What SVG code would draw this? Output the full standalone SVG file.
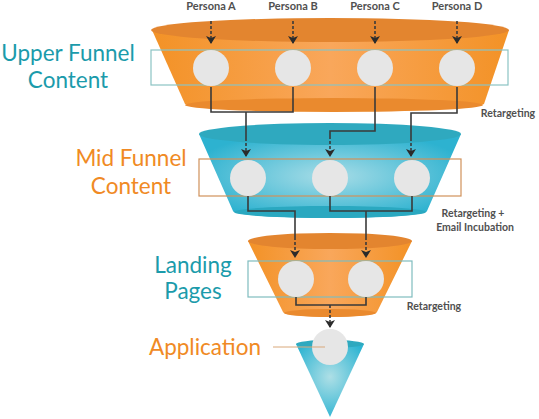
<svg xmlns="http://www.w3.org/2000/svg" width="539" height="419" viewBox="0 0 539 419">
<defs>
<linearGradient id="og" x1="0" y1="0" x2="1" y2="0">
<stop offset="0" stop-color="#F39226"/>
<stop offset="0.5" stop-color="#F9A75B"/>
<stop offset="1" stop-color="#F39226"/>
</linearGradient>
<radialGradient id="tg" cx="0.5" cy="0.5" r="0.55">
<stop offset="0" stop-color="#A9DDE7"/>
<stop offset="1" stop-color="#2DB2D0"/>
</radialGradient>
<radialGradient id="tg2" cx="0.5" cy="0.45" r="0.6">
<stop offset="0" stop-color="#AEDFE6"/>
<stop offset="1" stop-color="#2DB4D2"/>
</radialGradient>
<marker id="ah" markerUnits="userSpaceOnUse" markerWidth="8" markerHeight="10" refX="7" refY="5" orient="auto">
<path d="M0,0 L8,5 L0,10 L2,5 z" fill="#2B2B2B"/>
</marker>
</defs>
<style>
.lbl{font-family:Lato,"Open Sans","Liberation Sans",sans-serif;font-size:22.5px;text-anchor:middle}
.teal{fill:#1B9BAB}
.orng{fill:#F08A24}
.sm{font-family:Lato,"Open Sans","Liberation Sans",sans-serif;font-size:10.5px;font-weight:bold;fill:#505050;text-anchor:middle}
.pl{font-size:11px}
.node{fill:#E6E6E6}
.ln{fill:none;stroke:#3A3A3A;stroke-width:1.6}
.dash{fill:none;stroke:#3A3A3A;stroke-width:1.6;stroke-dasharray:3 2}
.box{fill:none;stroke-width:1.2}
</style>

<g id="upper-funnel">
<path d="M152 30 L185 104 A150 8 0 0 0 484 104 L509 30 Z" fill="url(#og)"/>
<ellipse cx="334" cy="105" rx="149" ry="7" fill="#EA8A2E"/>
<ellipse cx="330" cy="30" rx="179" ry="12" fill="#E3852F"/>
<rect class="box" x="151" y="50" width="357" height="35" stroke="#8BC3C3"/>
</g>
<g id="mid-funnel">
<path d="M199 134 L233 211 A97 7 0 0 0 427 211 L461 134 Z" fill="url(#tg)"/>
<ellipse cx="330" cy="212" rx="96" ry="6" fill="#2AA8C0"/>
<ellipse cx="330" cy="134" rx="131" ry="11" fill="#2FA9BF"/>
<rect class="box" x="199" y="159" width="262" height="37" stroke="#D0915A"/>
</g>
<g id="landing-funnel">
<path d="M248 241 L283 312 A47 5 0 0 0 377 312 L412 241 Z" fill="url(#og)"/>
<ellipse cx="330" cy="313" rx="46" ry="4" fill="#EA8A2E"/>
<ellipse cx="330" cy="241" rx="82" ry="8" fill="#E3852F"/>
<rect class="box" x="248" y="261" width="164" height="36" stroke="#7FBCBF"/>
</g>
<g id="app-cone">
<path d="M296 344 L330 417 L364 344 Z" fill="url(#tg2)"/>
<ellipse cx="330" cy="344" rx="34" ry="4" fill="#2FA9BF"/>
</g>

<g id="label-upper"><text class="lbl teal" x="68" y="61">Upper Funnel</text><text class="lbl teal" x="68" y="88">Content</text></g>
<g id="label-mid"><text class="lbl orng" x="131" y="166">Mid Funnel</text><text class="lbl orng" x="131" y="194">Content</text></g>
<g id="label-landing"><text class="lbl teal" x="193" y="273">Landing</text><text class="lbl teal" x="193" y="299">Pages</text></g>
<g id="label-app"><text class="lbl orng" x="205" y="355">Application</text></g>

<g id="personas">
<text class="sm pl" x="211" y="10">Persona A</text>
<text class="sm pl" x="293" y="10">Persona B</text>
<text class="sm pl" x="375" y="10">Persona C</text>
<text class="sm pl" x="457" y="10">Persona D</text>
</g>
<g id="side-labels">
<text class="sm" x="508" y="117">Retargeting</text>
<text class="sm" x="473" y="217">Retargeting +</text>
<text class="sm" x="475" y="231">Email Incubation</text>
<text class="sm" x="434" y="310">Retargeting</text>
</g>

<g id="connectors">
<path class="dash" d="M211 21 V43" marker-end="url(#ah)"/>
<path class="dash" d="M293 21 V43" marker-end="url(#ah)"/>
<path class="dash" d="M375 21 V43" marker-end="url(#ah)"/>
<path class="dash" d="M457 21 V43" marker-end="url(#ah)"/>

<path class="ln" d="M211 87 V112 H293 V87"/>
<path class="ln" d="M246 112 V138"/>
<path class="dash" d="M246 138 V156" marker-end="url(#ah)"/>
<path class="ln" d="M375 87 V131 H330 V136"/>
<path class="dash" d="M330 136 V156" marker-end="url(#ah)"/>
<path class="ln" d="M457 87 V113 H411 V138"/>
<path class="dash" d="M411 138 V156" marker-end="url(#ah)"/>

<path class="ln" d="M248 196 V211 H295 V237"/>
<path class="dash" d="M295 237 V257" marker-end="url(#ah)"/>
<path class="ln" d="M330 196 V211 H412 V196"/>
<path class="ln" d="M366 211 V237"/>
<path class="dash" d="M366 237 V257" marker-end="url(#ah)"/>

<path class="ln" d="M296 297 V305 H366 V297"/>
<path class="dash" d="M330 305 V327" marker-end="url(#ah)"/>
</g>

<g id="nodes">
<g id="n-a"><circle class="node" cx="211" cy="68" r="18"/></g>
<g id="n-b"><circle class="node" cx="293" cy="68" r="18"/></g>
<g id="n-c"><circle class="node" cx="375" cy="68" r="18"/></g>
<g id="n-d"><circle class="node" cx="457" cy="68" r="18"/></g>
<g id="m-1"><circle class="node" cx="248" cy="178" r="18"/></g>
<g id="m-2"><circle class="node" cx="330" cy="178" r="18"/></g>
<g id="m-3"><circle class="node" cx="412" cy="178" r="18"/></g>
<g id="l-1"><circle class="node" cx="296" cy="279" r="18"/></g>
<g id="l-2"><circle class="node" cx="366" cy="279" r="18"/></g>
<g id="app"><circle class="node" cx="330" cy="347" r="18"/></g>
</g>
<path id="app-leader" d="M273 347 H325" stroke="#D9A87A" stroke-width="1"/>
</svg>
